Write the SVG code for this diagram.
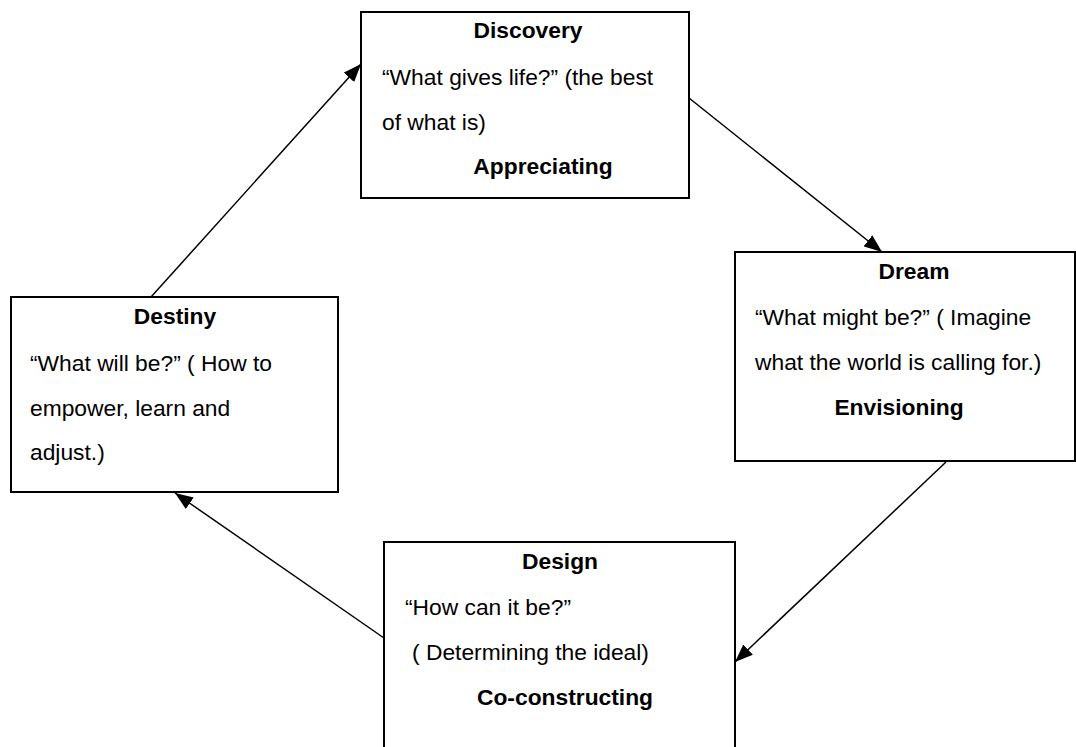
<svg xmlns="http://www.w3.org/2000/svg" width="1076" height="747" viewBox="0 0 1076 747">
<style>
.box{fill:#fff;stroke:#000;stroke-width:2}
text{font-family:"Liberation Sans",Arial,sans-serif;font-size:22.8px;fill:#000}
.t{font-weight:bold;text-anchor:middle}
.c{stroke:#000;stroke-width:1.5;fill:none}
</style>
<defs>
<marker id="ah" markerUnits="userSpaceOnUse" markerWidth="18" markerHeight="14" viewBox="0 0 18 14" refX="18" refY="7" orient="auto">
<path d="M0,0 L18,7 L0,14 Z" fill="#000"/>
</marker>
</defs>
<rect width="1076" height="747" fill="#fff"/>
<g id="connectors">
<line class="c" x1="151" y1="297" x2="361" y2="64" marker-end="url(#ah)"/>
<line class="c" x1="689" y1="98" x2="882" y2="252" marker-end="url(#ah)"/>
<line class="c" x1="946" y1="462" x2="735" y2="662" marker-end="url(#ah)"/>
<line class="c" x1="384" y1="638" x2="175" y2="493" marker-end="url(#ah)"/>
</g>
<g id="discovery">
<rect class="box" x="361" y="12" width="328" height="186"/>
<text class="t" x="528" y="38">Discovery</text>
<text x="382" y="85">“What gives life?” (the best</text>
<text x="382" y="130">of what is)</text>
<text class="t" x="543" y="174">Appreciating</text>
</g>
<g id="dream">
<rect class="box" x="735" y="252" width="340" height="209"/>
<text class="t" x="914" y="279">Dream</text>
<text x="755" y="325">“What might be?” ( Imagine</text>
<text x="755" y="370">what the world is calling for.)</text>
<text class="t" x="899" y="415">Envisioning</text>
</g>
<g id="destiny">
<rect class="box" x="11" y="297" width="327" height="195"/>
<text class="t" x="175" y="324">Destiny</text>
<text x="30" y="371">“What will be?” ( How to</text>
<text x="30" y="416">empower, learn and</text>
<text x="30" y="460">adjust.)</text>
</g>
<g id="design">
<rect class="box" x="384" y="542" width="351" height="215"/>
<text class="t" x="560" y="569">Design</text>
<text x="405" y="615">“How can it be?”</text>
<text x="412" y="660">( Determining the ideal)</text>
<text class="t" x="565" y="705">Co-constructing</text>
</g>
</svg>
